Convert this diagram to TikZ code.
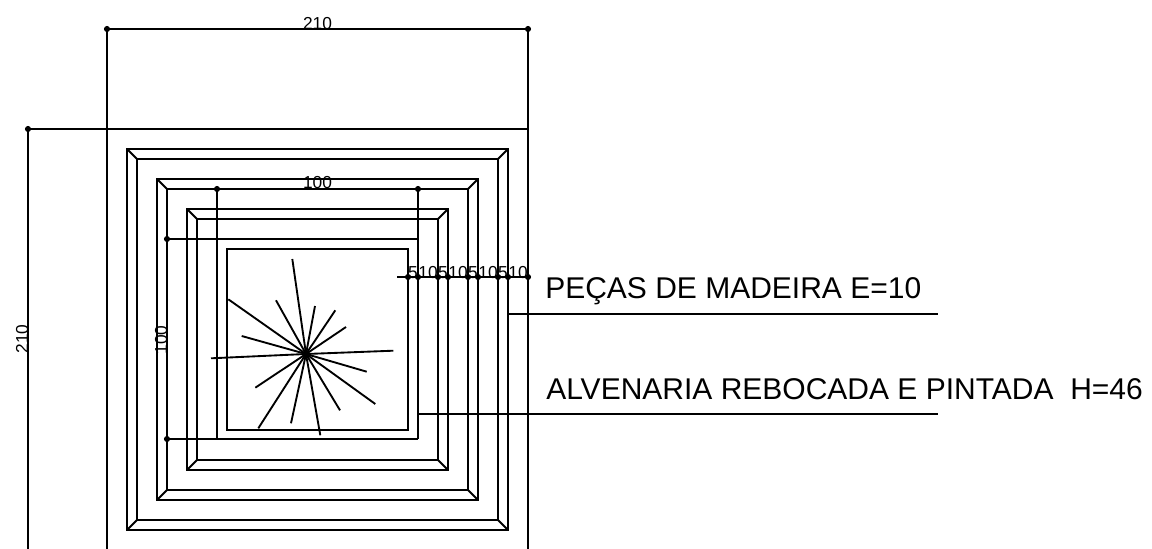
\documentclass[tikz,border=0pt]{standalone}
\usepackage{fontspec}
\setmainfont{Liberation Sans}
\tikzset{
  x=0.75pt,y=-0.75pt,
  ln/.style={line width=1.4pt,black,line cap=butt,line join=miter},
  ray/.style={line width=1.4pt,black,line cap=butt},
  dimdot/.style={circle,fill=black,inner sep=0pt,minimum size=4.6pt},
  dimtxt/.style={inner sep=0pt,font=\fontsize{13}{13}\selectfont,anchor=base},
  chaintxt/.style={inner sep=0pt,font=\fontsize{13}{13}\selectfont,anchor=base},
  labeltxt/.style={inner sep=0pt,font=\fontsize{22.5}{22.5}\selectfont,anchor=base west}
}
\newcommand{\frameset}[4]{%
  \draw[ln] (#1,#3) rectangle (#2,#4);
  \draw[ln] (#1+10,#3+10) rectangle (#2-10,#4-10);
  \draw[ln] (#1,#3) -- (#1+10,#3+10);
  \draw[ln] (#2,#3) -- (#2-10,#3+10);
  \draw[ln] (#1,#4) -- (#1+10,#4-10);
  \draw[ln] (#2,#4) -- (#2-10,#4-10);
}
\begin{document}
\begin{tikzpicture}
\useasboundingbox (0,0) rectangle (1152,549);
\clip (0,0) rectangle (1152,549);
\draw[ln] (107,29) -- (528,29);
\draw[ln] (107,29) -- (107,549);
\draw[ln] (528,29) -- (528,549);
\draw[ln] (28,129) -- (528,129);
\draw[ln] (28,129) -- (28,549);
\frameset{127}{508}{149}{530}
\frameset{157}{478}{179}{500}
\frameset{187}{448}{209}{470}
\draw[ln] (227,249) rectangle (408,430);
\draw[ln] (217,189) -- (418,189);
\draw[ln] (217,189) -- (217,439);
\draw[ln] (418,189) -- (418,439);
\draw[ln] (167,239) -- (418,239);
\draw[ln] (167,439) -- (418,439);
\draw[ln] (167,239) -- (167,439);
\draw[ln] (397,277) -- (528,277);
\foreach \px in {408,418,438,448,468,478,498,508,528}
  \node[dimdot] at (\px,277) {};
\foreach \px/\py in {107/29,528/29,28/129,217/189,418/189,167/239,167/439}
  \node[dimdot] at (\px,\py) {};
\foreach \px/\t in {413/5,428/10,443/5,458/10,473/5,488/10,503/5,518/10}
  \node[chaintxt] at (\px,278) {\t};
\node[dimtxt] (d210t) at (317.5,30) {210};
\node[dimtxt] (d100t) at (317.5,189) {100};
\node[dimtxt,rotate=90] (d210l) at (28,339) {210};
\node[dimtxt,rotate=90] (d100l) at (167,340) {100};
\coordinate (la) at (508,314);
\coordinate (lb) at (418,414);
\draw[ln] (la) -- (938,314);
\draw[ln] (lb) -- (938,414);
\node[labeltxt] (pecas) at (545,298.5) {PEÇAS DE MADEIRA E=10};
\node[labeltxt] (alv) at (546,399.5) {ALVENARIA REBOCADA E PINTADA\ \ H=46};
\coordinate (c) at (306,354);
\foreach \ex/\ey in {292.3/259,228.3/299.3,276/300.3,315/306,335.3/310.3,346/327,241.7/336,393.3/350.7,211/358.3,366.7/371.7,375.3/404,255.3/387.7,340/410.3,258.3/428.3,291/423.3,320.3/435.3}
  \draw[ray] (c) -- (\ex,\ey);
\end{tikzpicture}
\end{document}
